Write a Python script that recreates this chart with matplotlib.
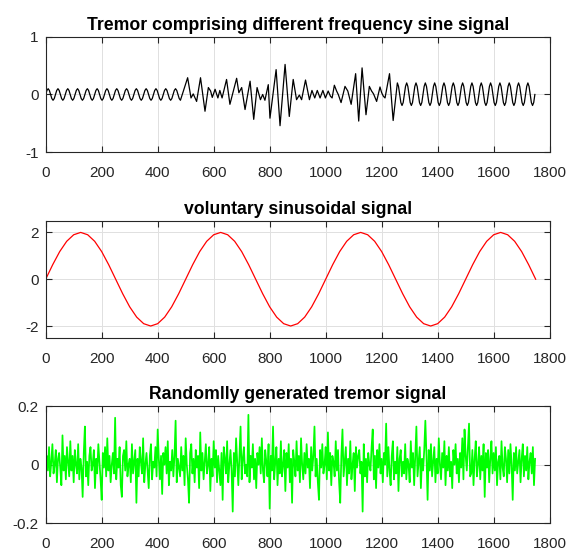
import numpy as np
import matplotlib
matplotlib.use('Agg')
import matplotlib.pyplot as plt

# top panel, part 1: low tremor, read every 4.375 samples (period ~35)
calm_step = 4.375
calm_v = [0, 0.07, 0.1, 0.07, 0, -0.07, -0.1, -0.07, 0, 0.07, 0.1, 0.07, 0, -0.07, -0.1, -0.07,
          0, 0.07, 0.1, 0.07, 0, -0.07, -0.1, -0.07, 0, 0.07, 0.1, 0.07, 0, -0.07, -0.1, -0.07,
          0, 0.07, 0.1, 0.07, 0, -0.07, -0.1, -0.07, 0, 0.07, 0.1, 0.07, 0, -0.07, -0.1, -0.07,
          0, 0.07, 0.1, 0.07, 0, -0.07, -0.1, -0.07, 0, 0.07, 0.1, 0.07, 0, -0.07, -0.1, -0.07,
          0, 0.07, 0.1, 0.07, 0, -0.07, -0.1, -0.07, 0, 0.07, 0.1, 0.07, 0, -0.07, -0.1, -0.07,
          0, 0.07, 0.1, 0.07, 0, -0.07, -0.1, -0.07, 0, 0.07, 0.1, 0.07, 0, -0.07, -0.1, -0.07,
          0, 0.07, 0.1, 0.07, 0, -0.07, -0.1, -0.07, 0, 0.07, 0.1, 0.07, 0, -0.07, -0.1]

# top panel, part 2: mixed-frequency burst, turning points (sample, amplitude)
burst_n = [507, 519, 527, 539, 553, 569, 581, 589, 595, 605,
           615, 622, 630, 646, 658, 682, 690, 700, 712, 730,
           743, 755, 767, 775, 783, 795, 801, 823, 837, 855,
           870, 884, 896, 906, 914, 928, 942, 951, 961, 970,
           980, 990, 999, 1009, 1017, 1023, 1031, 1039, 1045, 1055,
           1069, 1079, 1091, 1107, 1118, 1130, 1144, 1156, 1164, 1171,
           1182, 1194, 1200, 1206, 1212, 1228, 1241]
burst_v = [0.29, -0.06, 0.01, -0.12, 0.29, -0.29, 0.12, 0.06, -0.05, 0.09,
           -0.06, 0.07, -0.06, 0.26, -0.17, 0.28, 0.03, 0.12, -0.26, 0.23,
           -0.43, 0.12, -0.09, 0.0, -0.10, 0.17, -0.41, 0.43, -0.54, 0.52,
           -0.38, 0.26, -0.09, -0.01, -0.09, 0.25, -0.09, 0.07, -0.06, 0.07,
           -0.06, 0.07, -0.06, 0.06, -0.03, -0.06, 0.16, 0.06, 0.0, -0.14,
           0.14, 0.06, -0.17, 0.36, -0.46, 0.46, -0.35, 0.14, 0.06, 0.01,
           -0.12, 0.13, 0.03, -0.03, -0.06, 0.36, -0.45]

# top panel, part 3: stronger steady tremor from sample 1256, every 4.16 samples (period ~33)
steady_start = 1256
steady_step = 4.1625
steady_v = [0.2, 0.14, 0, -0.14, -0.19, -0.14, 0, 0.14, 0.2, 0.14, 0, -0.14, -0.19, -0.14, 0, 0.14,
            0.2, 0.14, 0, -0.14, -0.19, -0.14, 0, 0.14, 0.2, 0.14, 0, -0.14, -0.19, -0.14, 0, 0.14,
            0.2, 0.14, 0, -0.14, -0.19, -0.14, 0, 0.14, 0.2, 0.14, 0, -0.14, -0.19, -0.14, 0, 0.14,
            0.2, 0.14, 0, -0.14, -0.19, -0.14, 0, 0.14, 0.2, 0.14, 0, -0.14, -0.19, -0.14, 0, 0.14,
            0.2, 0.14, 0, -0.14, -0.19, -0.14, 0, 0.14, 0.2, 0.14, 0, -0.14, -0.19, -0.14, 0, 0.14,
            0.2, 0.14, 0, -0.14, -0.19, -0.14, 0, 0.14, 0.2, 0.14, 0, -0.14, -0.19, -0.14, 0, 0.14,
            0.2, 0.14, 0, -0.14, -0.19, -0.14, 0, 0.14, 0.2, 0.14, 0, -0.14, -0.19, -0.14, 0, 0.14,
            0.2, 0.14, 0, -0.14, -0.19, -0.14, 0]

# middle panel: voluntary signal read every 25 samples
vol_step = 25
voluntary = [0, 0.62, 1.18, 1.62, 1.9, 2, 1.9, 1.62, 1.18, 0.62,
             0, -0.62, -1.18, -1.62, -1.9, -2, -1.9, -1.62, -1.18, -0.62,
             0, 0.62, 1.18, 1.62, 1.9, 2, 1.9, 1.62, 1.18, 0.62,
             0, -0.62, -1.18, -1.62, -1.9, -2, -1.9, -1.62, -1.18, -0.62,
             0, 0.62, 1.18, 1.62, 1.9, 2, 1.9, 1.62, 1.18, 0.62,
             0, -0.62, -1.18, -1.62, -1.9, -2, -1.9, -1.62, -1.18, -0.62,
             0, 0.62, 1.18, 1.62, 1.9, 2, 1.9, 1.62, 1.18, 0.62, 0]

# bottom panel: random tremor, every 4th sample, in hundredths
noise_step = 4
noise = [
    -5, 3, -2, 6, -4, 1, 7, -3, 0, 5, -6, 2, 4, -1, -7, 10, -2, 3, -5, 6,
    1, -4, 8, -2, 3, -6, 5, 0, -3, 7, -5, 2, -1, -11, 4, 13, -4, 1, -7, 3,
    6, -2, 0, 5, -8, 2, -3, 7, 1, -5, -12, 4, -1, 6, -4, 9, -2, 3, -6, 0,
    4, -3, 16, -5, 2, -1, 6, -7, -11, 3, 5, -2, 8, -4, 0, 2, -6, 7, -3, 1,
    5, -13, 2, -4, 6, 1, -3, 9, -6, 0, 4, -2, -8, 3, 7, -5, 1, -1, 6, -4,
    12, 2, -5, 3, -10, 4, 0, 6, -3, 8, -7, 1, -2, 5, -4, 3, 15, -6, 2, -1,
    -4, 6, -2, 3, -7, 9, 0, -5, -13, 4, 7, -3, 2, -6, 5, -1, 3, -8, 11, -2,
    4, -5, 1, 7, -3, 0, 6, -9, 2, -4, 8, -1, 5, -6, 3, -2, -7, 4, -12, 6,
    2, -3, 8, -6, 0, 5, -2, -16, 4, -4, 9, 1, -7, 3, 13, -5, 2, 6, -3, 0,
    -4, 17, -6, 3, -1, 7, -5, 2, -8, 4, 0, 6, -3, 9, -2, -6, 5, 1, -4, 7,
    -15, 3, -2, 13, -5, 1, 6, -7, 2, -3, 8, -4, 0, 5, -9, 4, -1, 7, -6, 2,
    -13, 5, 1, -4, 8, -2, 3, -6, 9, 0, -5, 4, -3, 7, -1, 2, -8, 6, -2, 3,
    13, -4, 2, -6, -12, 5, -1, 7, -3, 0, 6, -5, 11, -2, 4, -7, 3, 1, -4, 8,
    -2, 5, -6, -13, 3, 12, -4, 1, 6, -7, 2, -3, 8, -5, 0, 4, -9, 6, -1, 3,
    5, -3, 1, -16, 7, -4, 2, -6, 4, 0, -2, 6, 12, -5, 3, -8, 5, -1, 7, -3,
    2, -6, 4, 0, 14, -4, 6, -2, -7, 3, 8, -5, 1, -3, 6, -9, 2, 5, -4, 1,
    -3, 7, -5, 2, 0, -6, 8, -1, 4, -7, 3, 13, -4, 1, 6, -8, 2, -2, 5, 15,
    3, -12, 5, -2, 7, -4, 1, 6, -6, 2, -3, 9, 0, -5, 4, -1, 8, -7, 3, -2,
    6, -4, 1, -8, 5, 0, 7, -3, 2, -6, 4, -1, 9, -5, 12, 3, -2, 6, 14, -4,
    -3, 5, -7, 2, 8, -4, 0, 6, -5, 3, -2, 7, -11, 4, -1, 5, -6, 2, 8, -3,
    4, -2, 6, -7, 1, 3, -5, 8, -1, -4, 6, 2, -6, 5, -3, 7, 0, -12, 4, -2,
    6, -3, 1, 5, -6, 2, 7, -4, 3, -2, 6, -5, 1, 4, -3, 6, -7, 2]

titles = ['Tremor comprising different frequency sine signal',
          'voluntary sinusoidal signal',
          'Randomlly generated tremor signal']

calm_n = np.arange(len(calm_v)) * calm_step
steady_n = steady_start + np.arange(len(steady_v)) * steady_step
tremor_n = np.concatenate([calm_n, burst_n, steady_n])
tremor_v = np.concatenate([calm_v, burst_v, steady_v])
vol_n = np.arange(len(voluntary)) * vol_step
noise_n = np.arange(len(noise)) * noise_step
noise_v = np.array(noise) / 100.0

plt.rcParams['font.family'] = ['Liberation Sans', 'DejaVu Sans']
dark = '#262626'

fig = plt.figure(figsize=(5.74, 5.54), dpi=100)
ax1 = fig.add_axes([0.0796, 0.7251, 0.878, 0.2087])
ax2 = fig.add_axes([0.0796, 0.3904, 0.878, 0.2112])
ax3 = fig.add_axes([0.0796, 0.0554, 0.878, 0.2117])

ax1.plot(tremor_n, tremor_v, color='black', lw=0.9, solid_joinstyle='round')
ax2.plot(vol_n, voluntary, color='#ff0000', lw=0.9)
ax3.plot(noise_n, noise_v, color='#00ff00', lw=1.25)

limits = [(-1, 1), (-2.5, 2.5), (-0.2, 0.2)]
yticks = [[-1, 0, 1], [-2, 0, 2], [-0.2, 0, 0.2]]
ylabels = [['-1', '0', '1'], ['-2', '0', '2'], ['-0.2', '0', '0.2']]

for ax, lim, yt, yl, title in zip([ax1, ax2, ax3], limits, yticks, ylabels, titles):
    ax.set_xlim(0, 1800)
    ax.set_xticks(range(0, 1801, 200))
    ax.set_ylim(lim)
    ax.set_yticks(yt)
    ax.set_yticklabels(yl)
    ax.grid(True, color='#e0e0e0', lw=0.7)
    ax.set_axisbelow(True)
    ax.tick_params(direction='in', top=True, right=True, length=4, width=0.8,
                   color=dark, labelcolor=dark, labelsize=11)
    ax.tick_params(axis='x', pad=10)
    ax.tick_params(axis='y', pad=5)
    for s in ax.spines.values():
        s.set_color(dark)
        s.set_linewidth(0.8)
    ax.set_title(title, fontweight='bold', fontsize=12.7, pad=5,
                 family=['Liberation Sans Narrow', 'Liberation Sans'])

plt.savefig('out.png', dpi=100)
